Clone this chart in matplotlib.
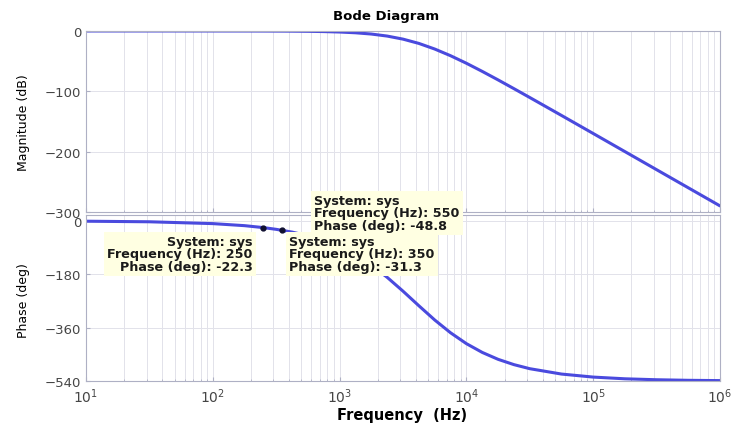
import matplotlib
matplotlib.use('Agg')
import matplotlib.pyplot as plt
import numpy as np

# frequency samples (Hz) and the response read at each of them
freq_hz = [10, 31.6, 100, 178, 251, 316, 422, 562, 750, 1000, 1334, 1778,
           2371, 3162, 4217, 5623, 7499, 10000, 13335, 17783, 23714, 31623,
           56234, 100000, 177828, 316228, 562341, 1000000]
mag_db = [0, 0, -0.02, -0.06, -0.11, -0.18, -0.31, -0.55, -0.98, -1.71, -2.97,
          -5.06, -8.42, -13.5, -20.6, -29.9, -41.0, -53.5, -67.0, -81.1, -95.6,
          -110.3, -140.0, -169.9, -199.9, -229.9, -259.9, -289.9]
phase_deg = [-0.9, -2.8, -9.0, -15.9, -22.5, -28.3, -37.6, -50.0, -66.3, -87.6,
             -114.9, -149.1, -190.2, -236.9, -286.1, -334.1, -377.3, -414.0,
             -443.6, -466.9, -484.8, -498.5, -516.6, -526.8, -532.6, -535.8,
             -537.7, -538.7]

# data tips on the phase plot
tip_freq = [550, 250, 350]
tip_phase = [-48.8, -22.3, -31.3]

mag_ticks = [0, -100, -200, -300]
phase_ticks = [0, -180, -360, -540]

line_col = '#4a4ade'
grid_col = '#e2e2ea'
spine_col = '#aeb0c4'
tick_col = '#454545'

fig = plt.figure(figsize=(7.32, 4.27), dpi=100)
ax_mag = fig.add_axes([0.1175, 0.5012, 0.8661, 0.4239])
ax_ph = fig.add_axes([0.1175, 0.1054, 0.8661, 0.3887])

for ax in (ax_mag, ax_ph):
    ax.set_xscale('log')
    ax.set_xlim(10, 1e6)
    ax.grid(True, which='both', axis='x', color=grid_col, linewidth=0.7)
    ax.grid(True, which='major', axis='y', color=grid_col, linewidth=0.7)
    for s in ax.spines.values():
        s.set_color(spine_col)
        s.set_linewidth(0.8)
    ax.tick_params(which='both', direction='in', color=spine_col, length=3,
                   labelcolor=tick_col, labelsize=9.5)
    ax.tick_params(which='minor', length=1.5)
    ax.set_axisbelow(True)

ax_mag.plot(freq_hz, mag_db, color=line_col, linewidth=2.2, solid_capstyle='round')
ax_mag.set_ylim(-300, 0)
ax_mag.set_yticks(mag_ticks)
ax_mag.tick_params(axis='x', which='both', labelbottom=False)

ax_ph.plot(freq_hz, phase_deg, color=line_col, linewidth=2.2, solid_capstyle='round')
ax_ph.set_ylim(-540, 20)
ax_ph.set_yticks(phase_ticks)
ax_ph.set_xticks([1e1, 1e2, 1e3, 1e4, 1e5, 1e6])
ax_ph.tick_params(axis='x', labelsize=10, pad=4)

ax_ph.plot(tip_freq, tip_phase, 'o', color='#101030', markersize=3.5, zorder=4)

tip_box = dict(boxstyle='square,pad=0.25', fc='#ffffe2', ec='none')
tip_font = dict(fontsize=9.2, fontweight='bold', color='#1a1a1a',
                linespacing=0.93, bbox=tip_box)
labels = ['System: sys\nFrequency (Hz): %d\nPhase (deg): %.1f' % (f, p)
          for f, p in zip(tip_freq, tip_phase)]
fig.text(0.345, 0.447, labels[1], ha='right', va='top', zorder=10, **tip_font)
fig.text(0.395, 0.447, labels[2], ha='left', va='top', zorder=10, **tip_font)
fig.text(0.429, 0.543, labels[0], ha='left', va='top', zorder=11, **tip_font)

fig.text(0.527, 0.962, 'Bode Diagram', ha='center', va='center',
         fontsize=9.5, fontweight='bold')
fig.text(0.032, 0.712, 'Magnitude (dB)', rotation=90, ha='center', va='center',
         fontsize=9)
fig.text(0.032, 0.297, 'Phase (deg)', rotation=90, ha='center', va='center',
         fontsize=9)
fig.text(0.549, 0.028, 'Frequency  (Hz)', ha='center', va='center',
         fontsize=10.5, fontweight='bold')

fig.savefig('out.png', dpi=100)
